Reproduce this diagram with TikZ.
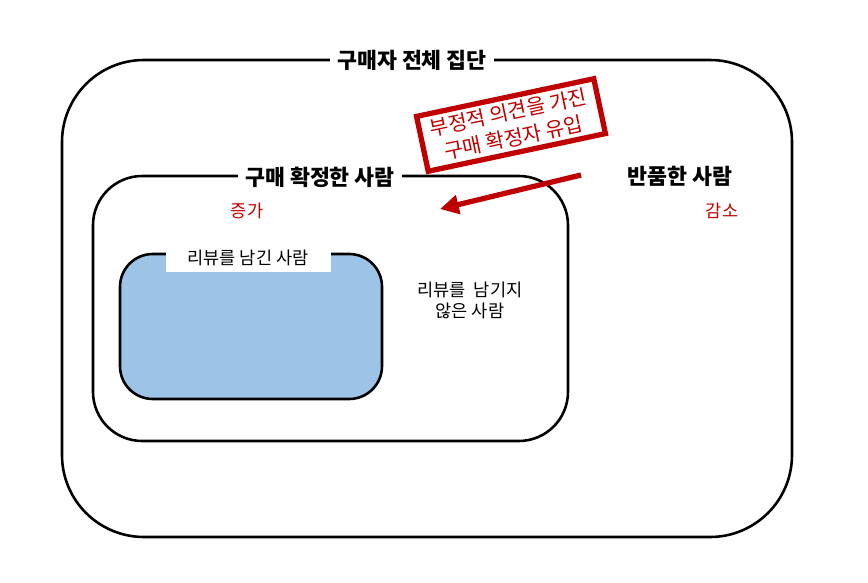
\documentclass[tikz,border=0pt]{standalone}
\usepackage{fontspec}
\setmainfont{Noto Sans CJK KR}
\usetikzlibrary{arrows.meta}
\definecolor{rd}{HTML}{C00000}
\definecolor{bl}{HTML}{9DC3E6}
\begin{document}
\begin{tikzpicture}[x=0.03cm,y=-0.03cm,
  box/.style={draw=black,line width=2.2pt},
  lab/.style={fill=white,inner xsep=6pt,inner ysep=1pt,font=\fontsize{18.5}{20}\selectfont\bfseries},
  red/.style={text=rd,font=\fontsize{15}{17}\selectfont}]
\useasboundingbox (0,0) rectangle (868,582);
\draw[box,rounded corners=70] (62,60) rectangle (792,537);
\node[lab] (t1) at (412,60) {구매자 전체 집단};
\draw[box,rounded corners=42] (93,176) rectangle (568,441);
\node[lab] (t2) at (320,177) {구매 확정한 사람};
\node[red] (up) at (247,211) {증가};
\draw[box,fill=bl,rounded corners=28] (120,254) rectangle (382,399);
\node[fill=white,minimum width=165*0.03cm,minimum height=27*0.03cm,inner sep=0pt,font=\fontsize{15}{17}\selectfont] (t3) at (248,258) {리뷰를 남긴 사람};
\node[align=center,font=\fontsize{15}{20}\selectfont] (t4) at (470,300) {리뷰를 \ 남기지\\[-2pt]않은 사람};
\node[font=\fontsize{18.5}{20}\selectfont\bfseries] (t5) at (680,176) {반품한 사람};
\node[red] (down) at (722,211) {감소};
\node[draw=rd,line width=4.5pt,fill=white,align=center,rotate=12,text=rd,inner xsep=9pt,inner ysep=5pt,
  font=\fontsize{17.5}{22}\selectfont] (rb) at (511,125) {부정적 의견을 가진\\구매 확정자 유입};
\coordinate (as) at (581,175);
\coordinate (ae) at (440,209);
\draw[rd,line width=4.5pt,-{Triangle[length=16pt,width=16pt]}] (as) -- (ae);
\end{tikzpicture}
\end{document}
